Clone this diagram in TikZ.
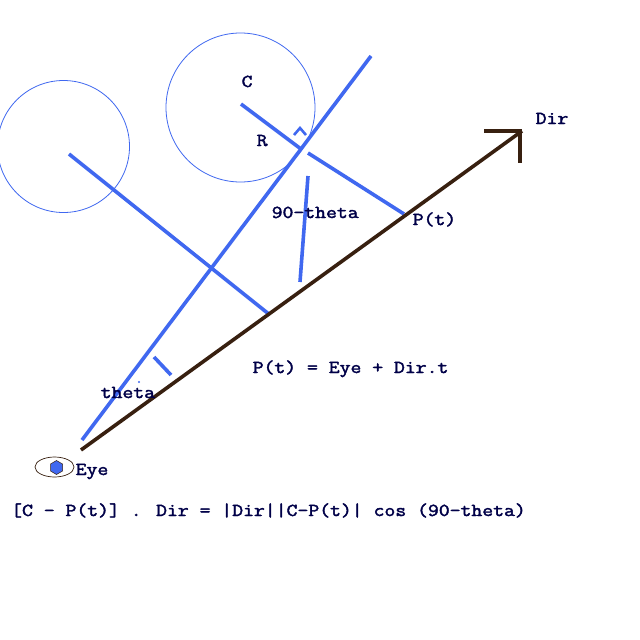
\documentclass[tikz,border=0pt]{standalone}
\usepackage{fontspec}
\newfontfamily\labfont[FakeBold=2.2,FakeStretch=1.16]{Latin Modern Mono}
\definecolor{bl}{RGB}{64,104,240}
\definecolor{br}{RGB}{56,32,16}
\definecolor{tx}{RGB}{0,0,72}
\tikzset{
 bline/.style={draw=bl,line width=3.6pt},
 dline/.style={draw=br,line width=3.6pt},
 circ/.style={draw=bl,line width=0.8pt},
 lab/.style={text=tx,font=\labfont\fontsize{18.2}{18.2}\selectfont,inner sep=0pt,anchor=base west},
}
\begin{document}
\begin{tikzpicture}[x=1pt,y=-1pt]
\useasboundingbox (0,0) rectangle (640,640);
\fill[white] (0,0) rectangle (640,640);
% circles
\draw[circ] (240.5,107.5) circle[radius=74.5];
\draw[circ] (63.5,146.5) circle[radius=66];
% coordinates
\coordinate (rayA) at (82,440);
\coordinate (rayB) at (371,56);
\coordinate (dirA) at (81,450);
\coordinate (dirB) at (522,131);
\coordinate (c1) at (241,104);
\coordinate (c1e) at (301,149);
\coordinate (pa) at (308,153);
\coordinate (pb) at (404,214);
\coordinate (c2) at (69,154);
\coordinate (c2e) at (270,315);
\coordinate (anA) at (308,176);
\coordinate (anB) at (300,282);
\coordinate (thA) at (154,357);
\coordinate (thB) at (171,375);
\coordinate (sqA) at (294,135);
\coordinate (sqB) at (300,128);
\coordinate (sqC) at (306,135);
\coordinate (hA) at (484,131);
\coordinate (hB) at (520,131);
\coordinate (hC) at (520,163);
% lines
\draw[bline] (rayA) -- (rayB);
\draw[bline] (c1) -- (c1e);
\draw[bline] (pa) -- (pb);
\draw[bline] (c2) -- (c2e);
\draw[bline] (anA) -- (anB);
\draw[bline] (thA) -- (thB);
\draw[bline,line width=2.6pt] (sqA) -- (sqB) -- (sqC);
\fill[bl] (139,382) circle[radius=1.2];
\draw[dline] (dirA) -- (dirB);
\draw[dline] (hA) -- (hB) -- (hC);
% eye
\draw[draw=br,line width=0.7pt,fill=white] (54.5,467) ellipse[x radius=19.5,y radius=10];
\fill[bl,draw=br,line width=0.5pt] (56.5,460.5) -- (62.5,464) -- (62.5,471) -- (56.5,474.5) -- (50.5,471) -- (50.5,464) -- cycle;
% labels
\node[lab] (lc) at (241.5,87) {C};
\node[lab] (lr) at (256.5,146) {R};
\node[lab] (ldir) at (535.5,124) {Dir};
\node[lab] (lpt) at (412.5,225) {P(t)};
\node[lab] (lnt) at (271.5,218) {90-theta};
\node[lab] (leq) at (252.5,373) {P(t) = Eye + Dir.t};
\node[lab] (lth) at (100.5,398) {theta};
\node[lab] (leye) at (75.5,475) {Eye};
\node[lab] (ldot) at (11,516) {[C - P(t)] . Dir = |Dir||C-P(t)| cos (90-theta)};
\end{tikzpicture}
\end{document}
